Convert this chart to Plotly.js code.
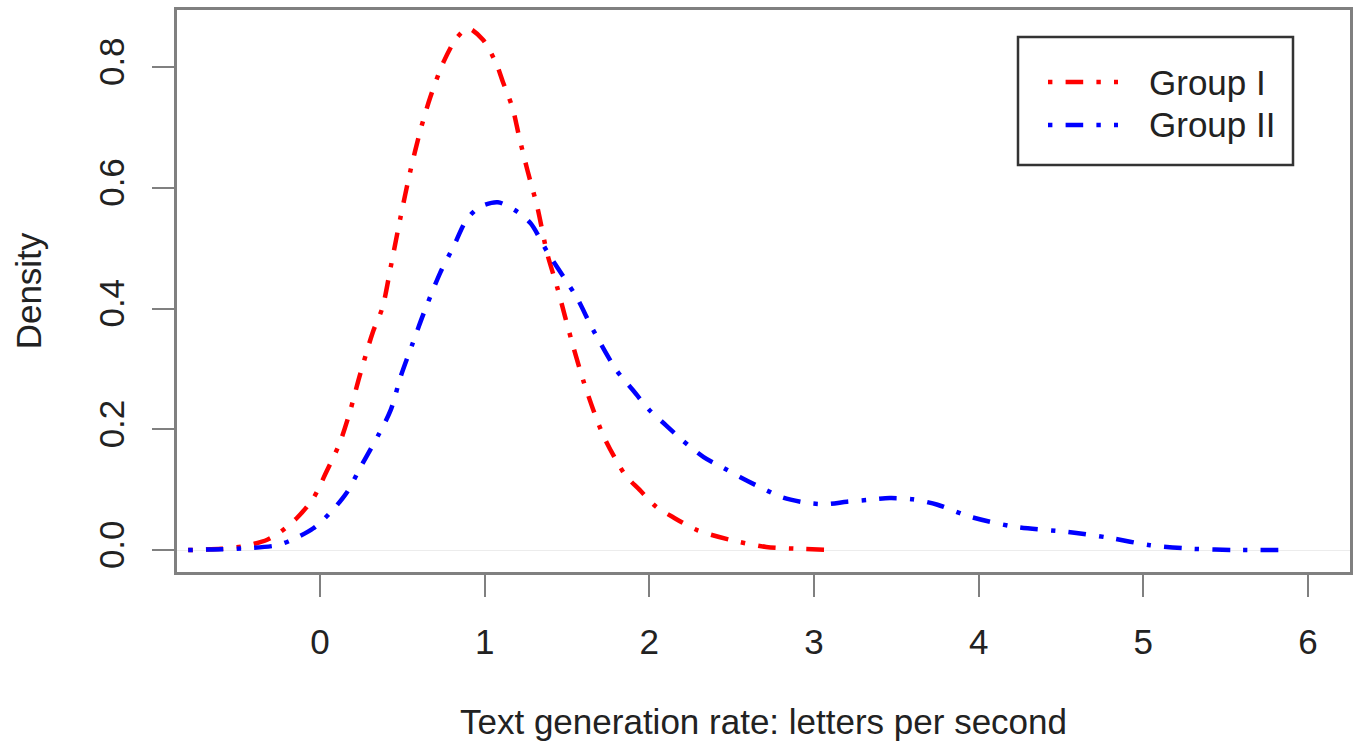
<!DOCTYPE html>
<html>
<head>
<meta charset="utf-8">
<script src="https://cdn.plot.ly/plotly-3.0.1.min.js"></script>
<style>html,body{margin:0;padding:0;background:#fff;}#chart{width:1362px;height:751px;}</style>
</head>
<body>
<div id="chart"></div>
<script>
// Group I density curve
const group1X = [-0.8, -0.6, -0.45, -0.32, -0.24, -0.14, -0.04, 0.04, 0.12, 0.18, 0.24, 0.32, 0.38, 0.43, 0.49, 0.55, 0.61, 0.67, 0.75, 0.83, 0.9, 0.99, 1.07, 1.11, 1.17, 1.21, 1.26, 1.32, 1.38, 1.44, 1.49, 1.54, 1.6, 1.66, 1.72, 1.8, 1.86, 1.94, 2.04, 2.14, 2.29, 2.49, 2.71, 2.91, 3.14];
const group1Y = [0, 0.002, 0.007, 0.017, 0.03, 0.053, 0.086, 0.13, 0.177, 0.227, 0.287, 0.36, 0.402, 0.469, 0.552, 0.629, 0.695, 0.75, 0.808, 0.848, 0.864, 0.845, 0.806, 0.776, 0.732, 0.684, 0.629, 0.568, 0.491, 0.436, 0.385, 0.335, 0.28, 0.232, 0.19, 0.148, 0.122, 0.1, 0.072, 0.055, 0.033, 0.017, 0.005, 0.002, 0.0];

// Group II density curve
const group2X = [-0.8, -0.65, -0.44, -0.26, -0.16, -0.04, 0.06, 0.16, 0.26, 0.36, 0.43, 0.49, 0.56, 0.63, 0.73, 0.81, 0.89, 0.97, 1.08, 1.2, 1.28, 1.38, 1.48, 1.56, 1.66, 1.8, 1.9, 2.0, 2.1, 2.2, 2.33, 2.45, 2.55, 2.68, 2.81, 2.96, 3.08, 3.2, 3.33, 3.46, 3.6, 3.75, 3.95, 4.23, 4.54, 4.8, 5.04, 5.3, 5.57, 5.83];
const group2Y = [0, 0.001, 0.003, 0.008, 0.018, 0.036, 0.061, 0.094, 0.144, 0.193, 0.232, 0.287, 0.34, 0.392, 0.459, 0.502, 0.547, 0.568, 0.576, 0.56, 0.541, 0.494, 0.452, 0.418, 0.364, 0.298, 0.265, 0.232, 0.207, 0.182, 0.154, 0.136, 0.121, 0.103, 0.087, 0.078, 0.076, 0.08, 0.083, 0.086, 0.084, 0.075, 0.055, 0.038, 0.03, 0.02, 0.008, 0.002, 0, 0];

const seriesNames = ["Group I", "Group II"];
const seriesColors = ["#ff0000", "#0000ff"];
const xTickVals = [0, 1, 2, 3, 4, 5, 6];
const xTickText = ["0", "1", "2", "3", "4", "5", "6"];
const yTickVals = [0, 0.2, 0.4, 0.6, 0.8];
const yTickText = ["0.0", "0.2", "0.4", "0.6", "0.8"];

const FONT = "Liberation Sans, Arial, Helvetica, sans-serif";
const FS = 35;
const dashPattern = "4.4px,13.2px,17.6px,13.2px";

const W = 1362, H = 751;
const M = {l: 177, r: 12, t: 10, b: 179};
const plotW = W - M.l - M.r, plotH = H - M.t - M.b;
const px2x = p => (p - M.l) / plotW;
const px2y = p => (H - M.b - p) / plotH;

const traces = [
  {x: group1X, y: group1Y, name: seriesNames[0], type: "scatter", mode: "lines",
   line: {color: seriesColors[0], width: 4.5, dash: dashPattern, shape: "spline", smoothing: 0.8}},
  {x: group2X, y: group2Y, name: seriesNames[1], type: "scatter", mode: "lines",
   line: {color: seriesColors[1], width: 4.5, dash: dashPattern, shape: "spline", smoothing: 0.8}}
];

// hand-drawn legend box in the style of the original
const legendBox = {x0: 1018, x1: 1293, y0: 37, y1: 165, lineX0: 1048, lineX1: 1118, textX: 1147, rowsY: [82, 125]};
const shapes = [{
  type: "rect", xref: "paper", yref: "paper",
  x0: px2x(legendBox.x0), x1: px2x(legendBox.x1), y0: px2y(legendBox.y1), y1: px2y(legendBox.y0),
  line: {color: "#333", width: 2.5}, fillcolor: "#fff", layer: "above"
}];
const annotations = [];
seriesNames.forEach((nm, i) => {
  shapes.push({
    type: "line", xref: "paper", yref: "paper",
    x0: px2x(legendBox.lineX0), x1: px2x(legendBox.lineX1),
    y0: px2y(legendBox.rowsY[i]), y1: px2y(legendBox.rowsY[i]),
    line: {color: seriesColors[i], width: 4.5, dash: dashPattern}, layer: "above"
  });
  annotations.push({
    xref: "paper", yref: "paper", x: px2x(legendBox.textX), y: px2y(legendBox.rowsY[i]),
    xanchor: "left", yanchor: "middle", showarrow: false, text: nm,
    font: {family: FONT, size: FS, color: "#222"}
  });
});

const axisCommon = {
  showgrid: false, showline: true, mirror: true, linecolor: "#808080", linewidth: 3,
  ticks: "outside", ticklen: 22, tickwidth: 2, tickcolor: "#808080",
  tickfont: {family: FONT, size: FS, color: "#222"}
};

const layout = {
  width: W, height: H,
  paper_bgcolor: "#fff", plot_bgcolor: "#fff",
  margin: M,
  showlegend: false,
  shapes: shapes,
  annotations: annotations,
  xaxis: Object.assign({}, axisCommon, {
    range: [-0.868, 6.255], tickvals: xTickVals, ticktext: xTickText, zeroline: false,
    ticklabelstandoff: 15,
    title: {text: "Text generation rate: letters per second", font: {family: FONT, size: FS, color: "#222"}, standoff: 50}
  }),
  yaxis: Object.assign({}, axisCommon, {
    range: [-0.0364, 0.8944], tickvals: yTickVals, ticktext: yTickText, tickangle: -90,
    zeroline: true, zerolinecolor: "#ececec", zerolinewidth: 1,
    ticklabelstandoff: 14,
    title: {text: "Density", font: {family: FONT, size: FS, color: "#222"}, standoff: 40}
  })
};

Plotly.newPlot("chart", traces, layout, {displayModeBar: false, staticPlot: true});
</script>
</body>
</html>
